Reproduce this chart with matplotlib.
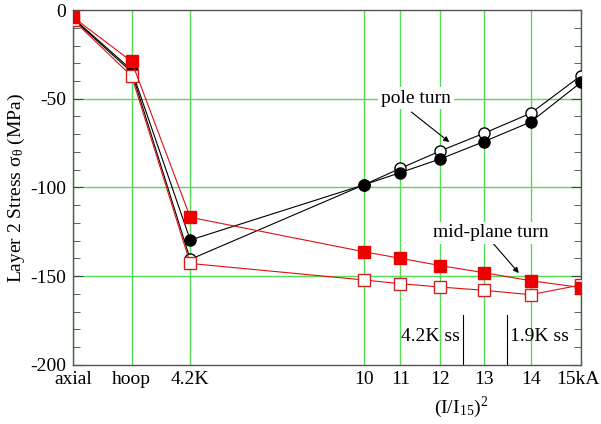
import matplotlib.pyplot as plt
import matplotlib.transforms as mtransforms
import numpy as np
from matplotlib.ticker import MultipleLocator

plt.rcParams['font.family'] = ['Liberation Serif', 'DejaVu Serif']
plt.rcParams['mathtext.fontset'] = 'stix'
plt.rcParams['axes.unicode_minus'] = False

# load steps on a (I/I15)^2 axis; assembly steps placed left of zero
x_pos = [-0.3, -0.15, 0.0, 100 / 225, 121 / 225, 144 / 225, 169 / 225, 196 / 225, 1.0]
x_labels = ['axial', 'hoop', '4.2K', '10', '11', '12', '13', '14', '15kA']

pole_open = [-5, -35, -140.5, -98.5, -89.2, -79.4, -69.5, -58.2, -37.0]
pole_filled = [-4.5, -33.8, -129.6, -98.5, -91.6, -83.9, -74.2, -63.1, -40.8]
mid_filled = [-4, -29, -116.8, -136.2, -139.9, -144.0, -148.0, -152.5, -156.4]
mid_open = [-5.6, -37.2, -142.8, -152.1, -154.2, -156.1, -157.9, -160.4, -154.9]

ss_lines = {'4.2K ss': 0.698, '1.9K ss': 0.81}
ss_top = -172

fs = 14

fig = plt.figure(figsize=(6.01, 4.24), dpi=100)
ax = fig.add_axes([0.1215, 0.1392, 0.9667 - 0.1215, 0.9764 - 0.1392])

ax.set_xlim(-0.3, 1.0)
ax.set_ylim(-200, 0)

grid_c = '#55dd55'
for xv in x_pos:
    ax.axvline(xv, color=grid_c, lw=1.0, zorder=0)
for yv in [-150, -100, -50]:
    ax.axhline(yv, color=grid_c, lw=1.0, zorder=0)

ax.plot(x_pos, pole_open, '-', color='black', lw=0.8, marker='o', ms=8,
        mfc='white', mec='black', mew=1.0, zorder=3)
ax.plot(x_pos, pole_filled, '-', color='black', lw=0.8, marker='o', ms=8,
        mfc='black', mec='black', zorder=4)
ax.plot(x_pos, mid_open, '-', color='#dd1111', lw=0.8, marker='s', ms=8,
        mfc='white', mec='#cc2222', mew=1.0, zorder=5)
ax.plot(x_pos, mid_filled, '-', color='#dd1111', lw=0.8, marker='s', ms=8,
        mfc='#ee0000', mec='#ee0000', zorder=6)

# steady-state markers
for name, xv in ss_lines.items():
    ax.plot([xv, xv], [-200, ss_top], color='black', lw=0.8, zorder=2)
ax.text(ss_lines['4.2K ss'] - 0.008, -184, '4.2K ss', ha='right', va='center',
        fontsize=fs)
ax.text(ss_lines['1.9K ss'] + 0.008, -184, '1.9K ss', ha='left', va='center',
        fontsize=fs)

# series labels with pointer arrows
box = dict(boxstyle='square,pad=0.15', fc='white', ec='none')
arrow = dict(arrowstyle='-|>', color='black', lw=0.8, mutation_scale=8,
             shrinkA=0, shrinkB=0)
ax.text(0.578, -49.6, 'pole turn', ha='center', va='center', fontsize=fs,
        bbox=box, zorder=7)
ax.annotate('', xy=(0.663, -74.4), xytext=(0.566, -57.5), arrowprops=arrow)
ax.text(0.770, -125.6, 'mid-plane turn', ha='center', va='center', fontsize=fs,
        bbox=box, zorder=7)
ax.annotate('', xy=(0.841, -148.2), xytext=(0.772, -130.7), arrowprops=arrow)

ax.set_xticks(x_pos)
ax.set_xticklabels(x_labels, fontsize=fs)
ax.tick_params(axis='x', length=0, pad=4)
# nudge the last label so it stays inside the figure
last = ax.get_xticklabels()[-1]
last.set_transform(last.get_transform() +
                   mtransforms.ScaledTranslation(-3 / 100, 0, fig.dpi_scale_trans))

ax.yaxis.set_major_locator(MultipleLocator(50))
ax.yaxis.set_minor_locator(MultipleLocator(10))
ax.tick_params(axis='y', which='both', direction='in', right=True,
               labelsize=fs, pad=5, color='#444444')
ax.tick_params(axis='y', which='major', length=7)
ax.tick_params(axis='y', which='minor', length=5)

for sp in ax.spines.values():
    sp.set_color('#555555')
    sp.set_linewidth(1.0)

ax.set_ylabel(r'Layer 2 Stress $\mathregular{\sigma_\theta}$ (MPa)', fontsize=fs,
              labelpad=2)
ax.set_xlabel(r'(I/I$_{\mathregular{15}}$)$^{\mathregular{2}}$', fontsize=fs)
ax.xaxis.set_label_coords(0.765, -0.085)

fig.savefig('out.png', dpi=100)
